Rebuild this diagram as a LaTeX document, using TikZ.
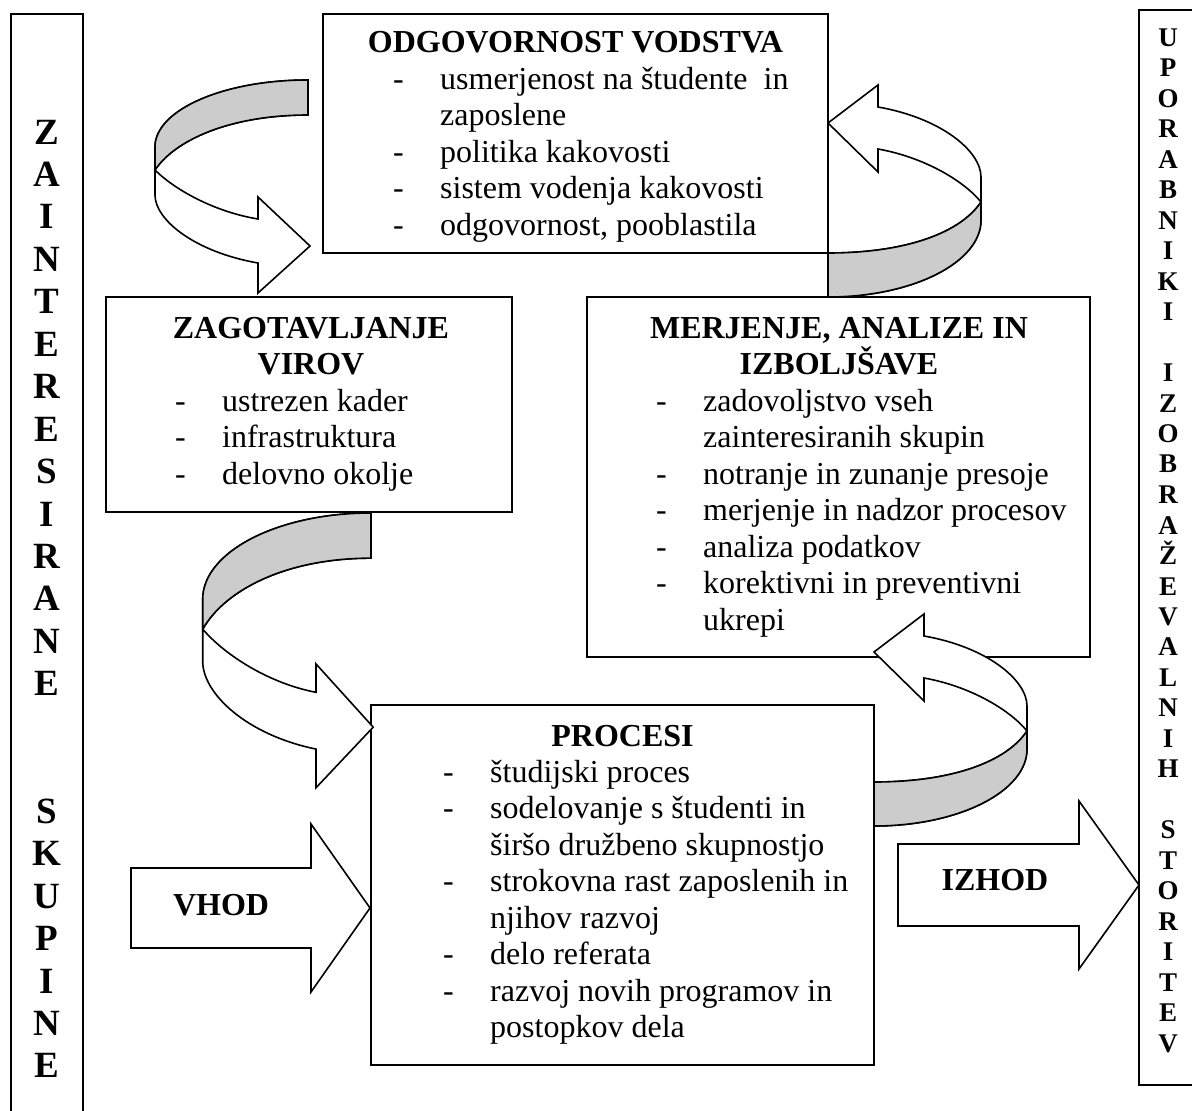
\documentclass[tikz,border=0pt]{standalone}
\usepackage{fontspec}
\setmainfont{Liberation Serif}
\definecolor{bandgray}{RGB}{204,204,204}
\newcommand\dsh{\makebox[47pt][l]{-}}
\newcommand\ind{\hspace*{47pt}}
\tikzset{
  outl/.style={draw=black, line width=1.6pt, line join=miter},
  box/.style={outl, rectangle, inner sep=0pt, outer sep=0pt, anchor=north west},
  txt/.style={inner sep=0pt, font=\fontsize{32}{36.5}\selectfont},
  ttl/.style={inner sep=0pt, font=\fontsize{32}{36.5}\selectfont\bfseries},
  pics/leftcurl/.style={code={
    \draw[outl, fill=white] (0,0) .. controls (-84.5,0) and (-153,30) .. (-153,67)
      -- (-153,115) .. controls (-153,140) and (-113,172) .. (-50,183)
      -- (-50,213) -- (2,166) -- (-50,117) -- (-50,139)
      .. controls (-93,132) and (-133,110) .. (-153,90)
      .. controls (-133,60) and (-78,35) .. (0,35) -- cycle;
    \draw[outl, fill=bandgray] (0,0) .. controls (-84.5,0) and (-153,30) .. (-153,67)
      -- (-153,90) .. controls (-133,60) and (-78,35) .. (0,35) -- cycle;
  }},
  pics/rightcurl/.style={code={
    \draw[outl, fill=white] (0,0) .. controls (84.5,0) and (153,-34.5) .. (153,-77)
      -- (153,-120) .. controls (153,-146) and (113,-179) .. (50,-190)
      -- (50,-212) -- (0,-174) -- (50,-125) -- (50,-148)
      .. controls (95,-140) and (135,-117) .. (153,-95)
      .. controls (133,-65) and (80,-44) .. (0,-44) -- cycle;
    \draw[outl, fill=bandgray] (0,0) .. controls (84.5,0) and (153,-34.5) .. (153,-77)
      -- (153,-95) .. controls (133,-65) and (80,-44) .. (0,-44) -- cycle;
  }},
}
\begin{document}
\begin{tikzpicture}[x=1pt,y=-1pt]
\useasboundingbox (0,0) rectangle (1192,1111);

% side columns
\node[box, minimum width=72, minimum height=1120] (leftcol) at (11,14) {};
\node[box, minimum width=62, minimum height=1075] (rightcol) at (1139,10) {};
\node[anchor=base, inner sep=0pt, font=\fontsize{37}{42.45}\selectfont\bfseries] (zaint) at (47,144)
 {\begin{tabular}[t]{@{}c@{}}Z\\A\\I\\N\\T\\E\\R\\E\\S\\I\\R\\A\\N\\E\\ \\ \\S\\K\\U\\P\\I\\N\\E\end{tabular}};
\node[anchor=base, inner sep=0pt, font=\fontsize{27}{30.5}\selectfont\bfseries] (upor) at (1168,46)
 {\begin{tabular}[t]{@{}c@{}}U\\P\\O\\R\\A\\B\\N\\I\\K\\I\\ \\I\\Z\\O\\B\\R\\A\\\smash{Ž}\\E\\V\\A\\L\\N\\I\\H\\ \\S\\T\\O\\R\\I\\T\\E\\V\end{tabular}};

% main boxes
\node[box, minimum width=505, minimum height=239] (odg) at (323,14) {};
\node[box, minimum width=406, minimum height=215] (zag) at (106,297) {};
\node[box, minimum width=503, minimum height=360] (merj) at (587,297) {};
\node[box, minimum width=503, minimum height=360] (proc) at (371,705) {};

% titles
\node[ttl, anchor=base] (odgt) at (575.5,52.5) {ODGOVORNOST VODSTVA};
\node[ttl, anchor=base] (zagt) at (311,338) {\begin{tabular}[t]{@{}c@{}}ZAGOTAVLJANJE\\VIROV\end{tabular}};
\node[ttl, anchor=base] (merjt) at (839,338) {\begin{tabular}[t]{@{}c@{}}MERJENJE, ANALIZE IN\\\smash{IZBOLJŠAVE}\end{tabular}};
\node[ttl, anchor=base] (proct) at (622.5,746) {PROCESI};

% lists
\node[txt, anchor=base west] (odgl) at (393,89) {\begin{tabular}[t]{@{}l@{}}
\dsh usmerjenost na študente~ in\\ \ind zaposlene\\ \dsh politika kakovosti\\ \dsh sistem vodenja kakovosti\\ \dsh odgovornost, pooblastila\end{tabular}};
\node[txt, anchor=base west] (zagl) at (175,411) {\begin{tabular}[t]{@{}l@{}}
\dsh ustrezen kader\\ \dsh infrastruktura\\ \dsh delovno okolje\end{tabular}};
\node[txt, anchor=base west] (merjl) at (656,411) {\begin{tabular}[t]{@{}l@{}}
\dsh zadovoljstvo vseh\\ \ind zainteresiranih skupin\\ \dsh notranje in zunanje presoje\\ \dsh merjenje in nadzor procesov\\ \dsh analiza podatkov\\ \dsh korektivni in preventivni\\ \ind ukrepi\end{tabular}};
\node[txt, anchor=base west] (procl) at (443,782) {\begin{tabular}[t]{@{}l@{}}
\dsh študijski proces\\ \dsh sodelovanje s študenti in\\ \ind širšo družbeno skupnostjo\\ \dsh strokovna rast zaposlenih in\\ \ind njihov razvoj\\ \dsh delo referata\\ \dsh razvoj novih programov in\\ \ind postopkov dela\end{tabular}};

% curved arrows
\pic at (308,80) {leftcurl};
\pic[xscale=1.1, yscale=1.29] at (371,513) {leftcurl};
\pic at (828,297) {rightcurl};
\pic at (874,826) {rightcurl};

% block arrows
\draw[outl, fill=white] (131,868) -- (311,868) -- (311,824) -- (370,908) -- (311,992) -- (311,948) -- (131,948) -- cycle;
\node[ttl] (vhod) at (221,905) {VHOD};
\draw[outl, fill=white] (898,844) -- (1079,844) -- (1079,801) -- (1139,885) -- (1079,969) -- (1079,926) -- (898,926) -- cycle;
\node[ttl] (izhod) at (995,880) {IZHOD};
\end{tikzpicture}
\end{document}
